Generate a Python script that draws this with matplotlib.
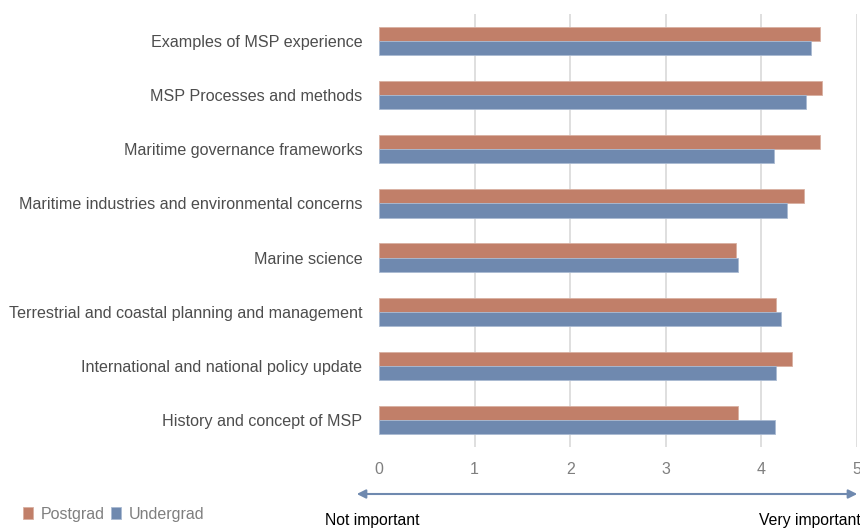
import matplotlib.pyplot as plt
from matplotlib.patches import FancyArrowPatch
import numpy as np

plt.rcParams['font.family'] = ['Liberation Sans', 'DejaVu Sans']

# data, top to bottom
categories = ['Examples of MSP experience',
              'MSP Processes and methods',
              'Maritime governance frameworks',
              'Maritime industries and environmental concerns',
              'Marine science',
              'Terrestrial and coastal planning and management',
              'International and national policy update',
              'History and concept of MSP']
postgrad = [4.61, 4.63, 4.61, 4.45, 3.73, 4.15, 4.32, 3.75]
undergrad = [4.52, 4.47, 4.13, 4.27, 3.76, 4.21, 4.15, 4.14]
xticks = [0, 1, 2, 3, 4, 5]

c_post = '#c17f69'
c_under = '#6f89af'
txt = '#4d4d4d'

fig = plt.figure(figsize=(8.6, 5.29), dpi=100)
ax = fig.add_axes([379/860, 1-447/529, (857-379)/860, (447-14)/529])

y = np.arange(len(categories))[::-1]
h = 0.26
ax.barh(y + h/2, postgrad, height=h, color=c_post, edgecolor='#d9b0a2', linewidth=0.6, label='Postgrad', zorder=3)
ax.barh(y - h/2, undergrad, height=h, color=c_under, edgecolor='#a9bad2', linewidth=0.6, label='Undergrad', zorder=3)

ax.set_xlim(0, 5)
ax.set_ylim(-0.5, len(categories) - 0.5)
ax.set_xticks(xticks)
ax.set_xticklabels([str(t) for t in xticks], color='#7f7f7f', fontsize=11.5)
ax.set_yticks(y)
ax.set_yticklabels(categories, color=txt, fontsize=11.6)
ax.tick_params(length=0)
ax.tick_params(axis='y', pad=12)
ax.tick_params(axis='x', pad=11)
ax.xaxis.grid(True, color='#d9d9d9', linewidth=1.2, zorder=0)
ax.get_xgridlines()[0].set_visible(False)
for s in ax.spines.values():
    s.set_visible(False)

# legend bottom-left
ax.legend(loc='center left', bbox_to_anchor=(9/860, 1-514/529), bbox_transform=fig.transFigure,
          ncol=2, frameon=False, fontsize=11.5, handlelength=0.6, handleheight=0.7,
          handletextpad=0.5, columnspacing=0.4, labelcolor='#7f7f7f')

# importance arrow
fig.patches.append(FancyArrowPatch(
    (354/860, 1-494/529), (860/860, 1-494/529), transform=fig.transFigure,
    arrowstyle='<|-|>', mutation_scale=13, color='#6f89af', linewidth=1.5))
fig.text(325/860, 1-521/529, 'Not important', fontsize=11.3, color='black', va='center', ha='left')
fig.text(861/860, 1-521/529, 'Very important', fontsize=11.3, color='black', va='center', ha='right')

fig.savefig('out.png', dpi=100)
